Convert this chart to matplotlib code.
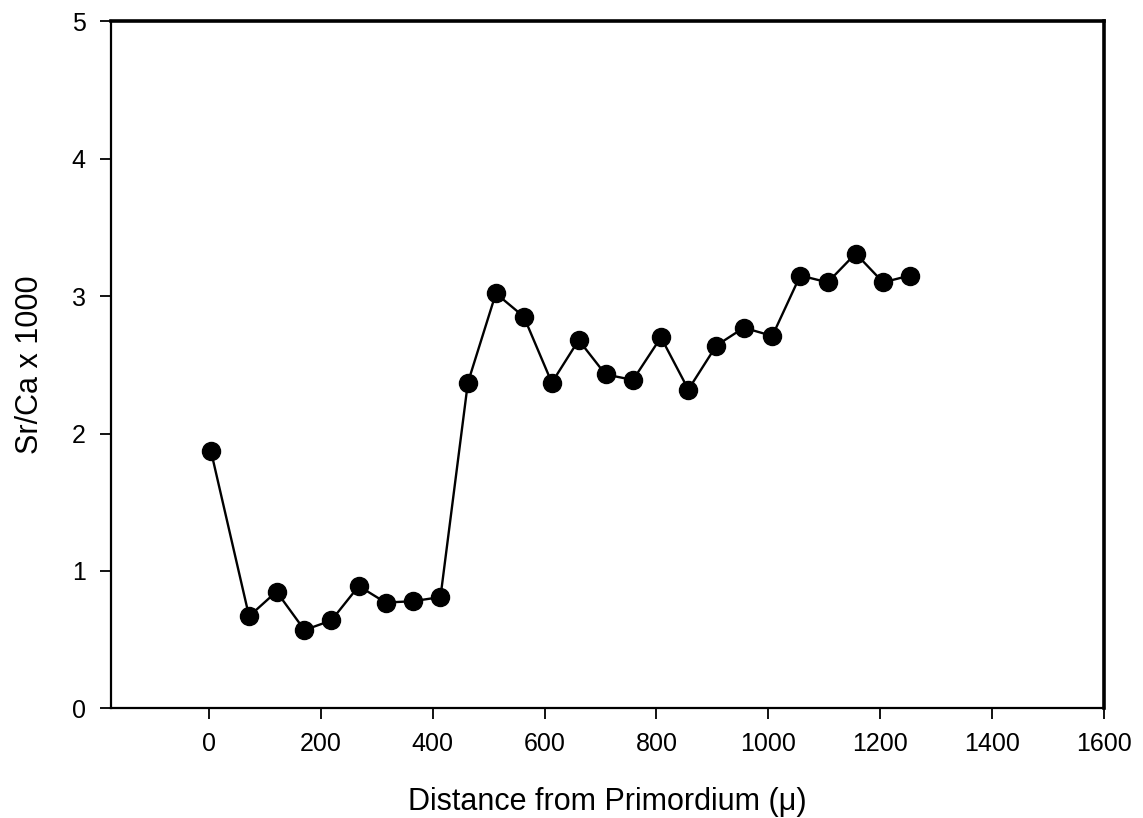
import matplotlib
matplotlib.use("Agg")
import matplotlib.pyplot as plt

plt.rcParams['font.family'] = ['Liberation Sans', 'DejaVu Sans']

# Sr/Ca profile along the otolith transect
distance = [4, 72, 121, 171, 219, 268, 316, 365, 414, 463, 513, 563, 613,
            661, 709, 758, 808, 857, 907, 956, 1007, 1057, 1106, 1156, 1205, 1253]
sr_ca = [1.87, 0.67, 0.85, 0.57, 0.64, 0.89, 0.77, 0.78, 0.81, 2.37, 3.02,
         2.85, 2.37, 2.68, 2.43, 2.39, 2.70, 2.32, 2.64, 2.77, 2.71, 3.15,
         3.10, 3.31, 3.10, 3.15]

x_ticks = [0, 200, 400, 600, 800, 1000, 1200, 1400, 1600]
y_ticks = [0, 1, 2, 3, 4, 5]

fig = plt.figure(figsize=(11.43, 8.18), dpi=100)
ax = fig.add_axes([0.097, 0.134, 0.869, 0.840])

ax.plot(distance, sr_ca, color='black', linewidth=1.7, marker='o',
        markersize=13, markerfacecolor='black', markeredgecolor='black')

ax.set_xlim(-175, 1600)
ax.set_ylim(0, 5)
ax.set_xticks(x_ticks)
ax.set_yticks(y_ticks)

ax.tick_params(axis='x', direction='out', length=8, width=1.3, labelsize=18, pad=9)
ax.tick_params(axis='y', direction='out', length=8, width=1.3, labelsize=18, pad=10)

for side in ['left', 'bottom']:
    ax.spines[side].set_linewidth(1.6)
for side in ['top', 'right']:
    ax.spines[side].set_linewidth(2.6)

ax.set_xlabel('Distance from Primordium (\u03bc)', fontsize=22, labelpad=22)
ax.set_ylabel('Sr/Ca x 1000', fontsize=22, labelpad=19)

fig.savefig('out.png', dpi=100)
